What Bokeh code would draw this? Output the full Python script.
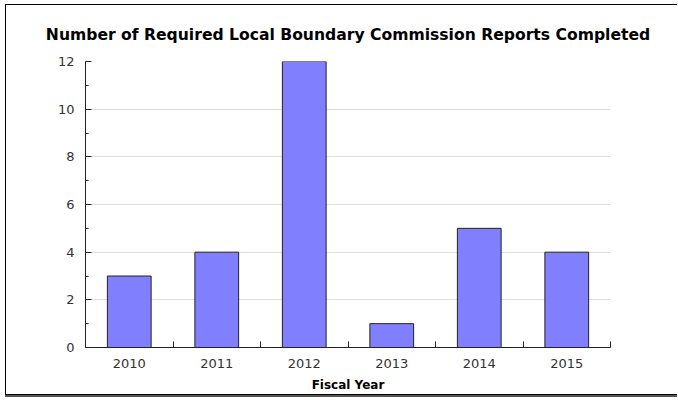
from bokeh.plotting import figure
from bokeh.models import FixedTicker, Range1d, ColumnDataSource
from bokeh.embed import file_html
from bokeh.resources import INLINE

# ---- data ----
years = ["2010", "2011", "2012", "2013", "2014", "2015"]
reports = [3, 4, 12, 1, 5, 4]
y_major_ticks = [0, 2, 4, 6, 8, 10, 12]
y_minor_ticks = [1, 3, 5, 7, 9, 11]
title_text = "Number of Required Local Boundary Commission Reports Completed"
x_label = "Fiscal Year"

FONT = "DejaVu Sans"

xs = [i + 0.5 for i in range(len(years))]
src = ColumnDataSource(dict(x=xs, top=reports, year=years))

p = figure(width=672, height=391, output_backend="svg", toolbar_location=None,
           x_range=Range1d(0, len(years)), y_range=Range1d(0, 12),
           min_border_left=79, min_border_right=68, min_border_top=56,
           min_border_bottom=49)

p.styles = {"margin-left": "5px", "margin-top": "4px",
            "border-left": "1px solid #000", "border-top": "1px solid #000",
            "border-bottom": "1px solid #000",
            "box-shadow": "0 2px 0 #555"}

p.vbar(x="x", top="top", width=0.5, bottom=0, source=src,
       fill_color="#8080ff", line_color="#222222", line_width=1)

# title
p.title.text = title_text
p.title.align = "center"
p.title.text_font = FONT
p.title.text_font_style = "bold"
p.title.text_font_size = "15.6px"
p.title.text_color = "#000000"
p.title.standoff = 35

p.outline_line_color = None
p.background_fill_color = "white"
p.border_fill_color = "white"

# grids
p.xgrid.grid_line_color = None
p.ygrid.grid_line_color = "#dddddd"
p.ygrid.grid_line_width = 1

# y axis
ya = p.yaxis[0]
ya.ticker = FixedTicker(ticks=y_major_ticks, minor_ticks=y_minor_ticks)
ya.major_tick_in = 6
ya.major_tick_out = 0
ya.minor_tick_in = 3
ya.minor_tick_out = 0
ya.axis_line_color = "#222222"
ya.major_tick_line_color = "#222222"
ya.minor_tick_line_color = "#222222"
ya.major_label_text_font = FONT
ya.major_label_text_font_size = "13px"
ya.major_label_text_color = "#333333"
ya.major_label_standoff = 11

# x axis
xa = p.xaxis[0]
xa.ticker = FixedTicker(ticks=xs, minor_ticks=list(range(1, len(years) + 1)))
xa.major_label_overrides = {x: y for x, y in zip(xs, years)}
xa.major_tick_line_color = None
xa.major_tick_in = 0
xa.major_tick_out = 0
xa.minor_tick_in = 6
xa.minor_tick_out = 0
xa.minor_tick_line_color = "#222222"
xa.axis_line_color = "#222222"
xa.major_label_text_font = FONT
xa.major_label_text_font_size = "13px"
xa.major_label_text_color = "#333333"
xa.major_label_standoff = 11
xa.axis_label = x_label
xa.axis_label_text_font = FONT
xa.axis_label_text_font_style = "bold"
xa.axis_label_text_font_size = "12px"
xa.axis_label_text_color = "#000000"
xa.axis_label_standoff = 7

open("out.html", "w").write(file_html(p, INLINE))
